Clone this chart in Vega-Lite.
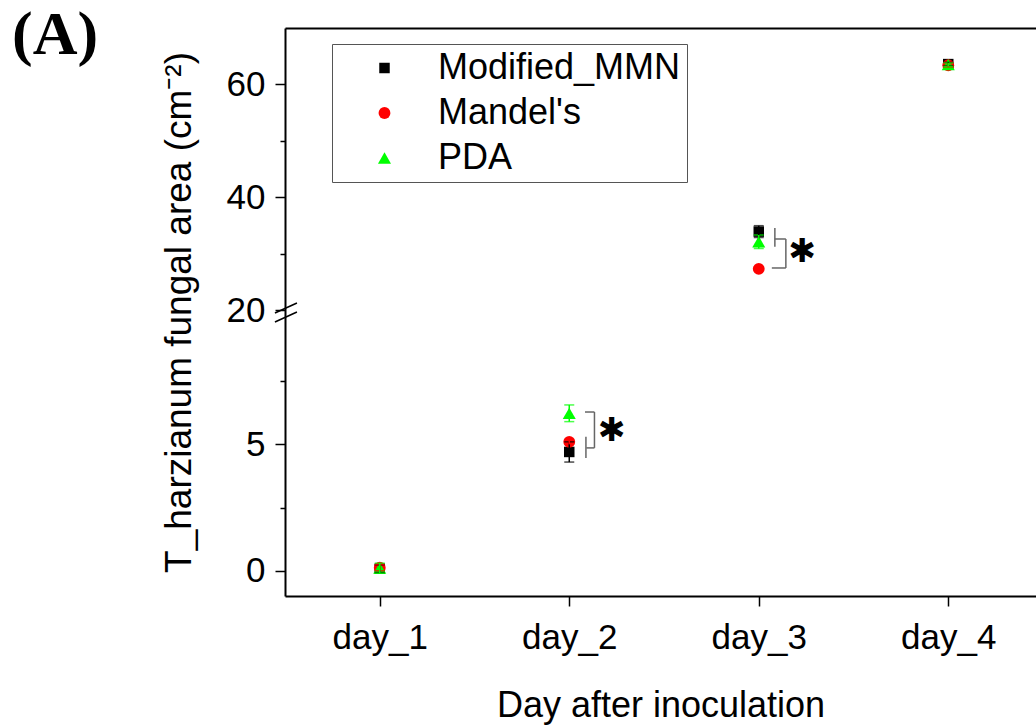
{
  "$schema": "https://vega.github.io/schema/vega-lite/v6.json",
  "width": 751,
  "height": 568,
  "autosize": "none",
  "padding": {"left": 285, "top": 28, "right": 0, "bottom": 130},
  "background": "white",
  "config": {"view": {"stroke": null}, "font": "Liberation Sans"},
  "title": {"text": "(A)", "anchor": "start", "frame": "group", "dx": -273, "dy": 88, "offset": 0, "baseline": "alphabetic", "font": "Liberation Serif", "fontSize": 62, "fontWeight": "bold", "color": "black"},
  "datasets": {
    "points": [
      {"day": 1, "series": "Modified_MMN", "mean": 0.08, "lo": -0.07, "hi": 0.23},
      {"day": 2, "series": "Modified_MMN", "mean": 4.7, "lo": 4.3, "hi": 5.1},
      {"day": 3, "series": "Modified_MMN", "mean": 33.9, "lo": 32.85, "hi": 34.95},
      {"day": 4, "series": "Modified_MMN", "mean": 63.6, "lo": 63.3, "hi": 63.9},
      {"day": 1, "series": "Mandel's", "mean": 0.12, "lo": 0.0, "hi": 0.24},
      {"day": 2, "series": "Mandel's", "mean": 5.1, "lo": 5.0, "hi": 5.2},
      {"day": 3, "series": "Mandel's", "mean": 27.3, "lo": 27.0, "hi": 27.6},
      {"day": 4, "series": "Mandel's", "mean": 63.4, "lo": 63.1, "hi": 63.7},
      {"day": 1, "series": "PDA", "mean": 0.1, "lo": -0.1, "hi": 0.3},
      {"day": 2, "series": "PDA", "mean": 6.23, "lo": 5.9, "hi": 6.56},
      {"day": 3, "series": "PDA", "mean": 32.1, "lo": 30.9, "hi": 33.3},
      {"day": 4, "series": "PDA", "mean": 63.5, "lo": 63.2, "hi": 63.8}
    ],
    "brackets": [
      {"x": 2.083, "x2": 2.133, "y": 6.28, "y2": 6.28},
      {"x": 2.133, "x2": 2.133, "y": 6.28, "y2": 4.86},
      {"x": 2.133, "x2": 2.09, "y": 4.86, "y2": 4.86},
      {"x": 2.088, "x2": 2.088, "y": 5.3, "y2": 4.46},
      {"x": 3.085, "x2": 3.085, "y": 34.54, "y2": 31.22},
      {"x": 3.085, "x2": 3.143, "y": 32.59, "y2": 32.59},
      {"x": 3.143, "x2": 3.143, "y": 32.59, "y2": 27.45},
      {"x": 3.143, "x2": 3.069, "y": 27.45, "y2": 27.45}
    ],
    "stars": [
      {"x": 2.225, "y": 5.54, "label": "✱"},
      {"x": 3.23, "y": 30.2, "label": "✱"}
    ],
    "breaks": [
      {"x": 0.447, "x2": 0.563, "y": 16.25, "y2": 21.24},
      {"x": 0.447, "x2": 0.563, "y": 9.84, "y2": 17.5}
    ]
  },
  "resolve": {"axis": {"x": "independent", "y": "independent"}},
  "layer": [
    {
      "data": {"name": "points"},
      "mark": {"type": "point", "filled": true, "opacity": 1, "strokeWidth": 0},
      "encoding": {
        "x": {
          "field": "day", "type": "quantitative",
          "scale": {"domain": [0.5, 4.463], "nice": false, "zero": false},
          "axis": {
            "orient": "bottom", "values": [1, 2, 3, 4], "labelExpr": "'day_' + datum.value",
            "grid": false, "domainColor": "black", "domainWidth": 2, "tickColor": "black", "tickWidth": 1.5, "tickSize": 10,
            "labelFont": "Liberation Sans", "labelFontSize": 35, "labelColor": "black", "labelPadding": 14,
            "title": "Day after inoculation", "titleFont": "Liberation Sans", "titleFontSize": 36, "titleFontWeight": "normal", "titleColor": "black", "titlePadding": 33
          }
        },
        "y": {
          "field": "mean", "type": "quantitative",
          "scale": {"domain": [-1, 10, 20, 70], "range": [568, 290, 282, 0], "nice": false, "zero": false},
          "axis": {
            "orient": "left",
            "values": [0, 5, 20, 40, 60],
            "grid": false, "domainColor": "black", "domainWidth": 2, "tickColor": "black", "tickWidth": 1.5, "tickSize": 10,
            "labelFont": "Liberation Sans", "labelFontSize": 35, "labelColor": "black", "labelPadding": 10,
            "title": "T_harzianum fungal area (cm⁻²)", "titleFont": "Liberation Sans", "titleFontSize": 37, "titleFontWeight": "normal", "titleColor": "black", "titlePadding": 28
          }
        },
        "color": {
          "field": "series", "type": "nominal",
          "scale": {"domain": ["Modified_MMN", "Mandel's", "PDA"], "range": ["#000000", "#ff0000", "#00ff00"]},
          "legend": {"orient": "none", "legendX": 47, "legendY": 16, "title": null, "labelFont": "Liberation Sans", "labelFontSize": 36, "labelColor": "black", "labelLimit": 400, "strokeColor": "#555555", "fillColor": "white", "padding": 6, "symbolOffset": 28.5, "labelOffset": 35.5, "rowPadding": 9, "symbolSize": 120, "symbolStrokeWidth": 0}
        },
        "shape": {
          "field": "series", "type": "nominal",
          "scale": {"domain": ["Modified_MMN", "Mandel's", "PDA"], "range": ["square", "circle", "triangle-up"]},
          "legend": {"orient": "none", "legendX": 47, "legendY": 16, "title": null, "labelFont": "Liberation Sans", "labelFontSize": 36, "labelColor": "black", "labelLimit": 400, "strokeColor": "#555555", "fillColor": "white", "padding": 6, "symbolOffset": 28.5, "labelOffset": 35.5, "rowPadding": 9, "symbolSize": 120, "symbolStrokeWidth": 0}
        },
        "size": {
          "field": "series", "type": "nominal",
          "scale": {"domain": ["Modified_MMN", "Mandel's", "PDA"], "range": [110, 170, 230]},
          "legend": null
        }
      }
    },
    {
      "data": {"name": "points"},
      "mark": {"type": "errorbar", "ticks": {"size": 10, "thickness": 1.5}, "rule": {"strokeWidth": 1.5}},
      "encoding": {
        "x": {"field": "day", "type": "quantitative", "axis": null},
        "y": {"field": "lo", "type": "quantitative", "axis": null},
        "y2": {"field": "hi"},
        "color": {"field": "series", "type": "nominal", "legend": null}
      }
    },
    {
      "data": {"name": "brackets"},
      "mark": {"type": "rule", "color": "#666666", "strokeWidth": 1.5},
      "encoding": {
        "x": {"field": "x", "type": "quantitative", "axis": null},
        "x2": {"field": "x2"},
        "y": {"field": "y", "type": "quantitative", "axis": null},
        "y2": {"field": "y2"}
      }
    },
    {
      "data": {"name": "stars"},
      "mark": {"type": "text", "font": "DejaVu Sans", "fontSize": 33, "color": "black", "baseline": "middle", "align": "center"},
      "encoding": {
        "x": {"field": "x", "type": "quantitative", "axis": null},
        "y": {"field": "y", "type": "quantitative", "axis": null},
        "text": {"field": "label"}
      }
    },
    {
      "data": {"name": "breaks"},
      "mark": {"type": "rule", "color": "black", "strokeWidth": 1.5},
      "encoding": {
        "x": {"field": "x", "type": "quantitative", "axis": {"orient": "top", "labels": false, "ticks": false, "grid": false, "domainColor": "black", "domainWidth": 2, "title": null}},
        "x2": {"field": "x2"},
        "y": {"field": "y", "type": "quantitative", "axis": {"orient": "left", "values": [2.5, 7.5, 30, 50], "labels": false, "domain": false, "grid": false, "tickColor": "black", "tickWidth": 1.5, "tickSize": 5, "title": null}},
        "y2": {"field": "y2"}
      }
    }
  ]
}
